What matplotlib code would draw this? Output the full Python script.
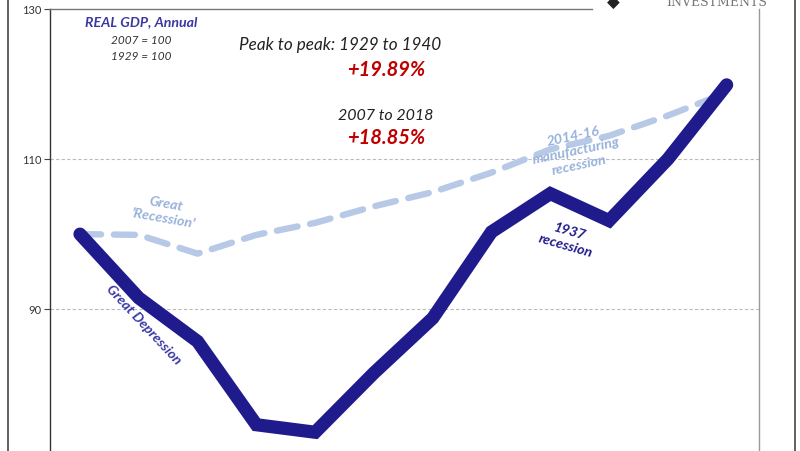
import matplotlib
matplotlib.use("Agg")
import matplotlib.pyplot as plt
from matplotlib.lines import Line2D

plt.rcParams['font.family'] = ['Lato', 'DejaVu Sans']

# Data: Real GDP indexed (1929=100 for Great Depression, 2007=100 for Great Recession)
years_depression = [1929, 1930, 1931, 1932, 1933, 1934, 1935, 1936, 1937, 1938, 1939, 1940]
gdp_depression = [100.0, 91.5, 85.7, 74.6, 73.6, 81.5, 88.8, 100.3, 105.4, 101.8, 110.0, 119.89]
years_recession = [2007, 2008, 2009, 2010, 2011, 2012, 2013, 2014, 2015, 2016, 2017, 2018]
gdp_recession = [100.0, 99.9, 97.4, 99.9, 101.5, 103.7, 105.6, 108.2, 111.3, 113.1, 115.8, 118.85]
y_ticks = [90, 110, 130]

navy = '#1f1b8c'
light = '#b7c9e6'
lighttext = '#98b2dc'

fig = plt.figure(figsize=(8, 4.51), dpi=100)
ax = fig.add_axes([50/800, 0, (759-50)/800, 1 - 9/451])

idx = list(range(len(years_depression)))
ax.plot(idx, gdp_recession, color=light, lw=4.6, dashes=(3.3, 2.0),
        dash_capstyle='round', zorder=2)
ax.plot(idx, gdp_depression, color=navy, lw=9.5, solid_capstyle='round',
        solid_joinstyle='miter', zorder=3)

ax.set_xlim(-0.51, 11.55)
ax.set_ylim(71.1, 130)
ax.set_yticks(y_ticks)
ax.set_yticklabels([str(t) for t in y_ticks])
ax.set_xticks([])
ax.tick_params(axis='y', length=4, width=0.8, color='#444444', labelsize=8,
               labelcolor='#333333', pad=2)
for t in y_ticks[:-1]:
    ax.axhline(t, color='#bbbbbb', lw=0.8, ls=(0, (3, 2)), zorder=1)

ax.spines['left'].set_color('#333333')
ax.spines['left'].set_linewidth(1.0)
ax.spines['right'].set_color('#999999')
ax.spines['right'].set_linewidth(1.0)
ax.spines['top'].set_visible(False)
ax.spines['bottom'].set_visible(False)

# top frame line (interrupted by logo)
fig.add_artist(Line2D([50/800, 592/800], [1 - 8.5/451, 1 - 8.5/451],
                      color='#777777', lw=1.0))
# outer frame
fig.add_artist(Line2D([8/800, 8/800], [0, 1], color='#444444', lw=1.2))
fig.add_artist(Line2D([795/800, 795/800], [0, 1], color='#444444', lw=1.2))

# logo fragment
fig.text(613/800, 1 - 3/451, '\u25c6', ha='center', va='center', fontsize=12,
         color='#222222', family='DejaVu Sans')
fig.text(717/800, 1 - 3/451, 'INVESTMENTS', ha='center', va='center', fontsize=9,
         color='#777777', family='DejaVu Serif')

def ftext(px, py, s, **kw):
    fig.text(px/800, 1 - py/451, s, **kw)

ftext(141, 22, 'REAL GDP, Annual', ha='center', va='center', fontsize=10.2,
      style='italic', weight='bold', color='#3b38a3')
ftext(141, 41, '2007 = 100', ha='center', va='center', fontsize=8.5,
      style='italic', color='#333333')
ftext(141, 57, '1929 = 100', ha='center', va='center', fontsize=8.5,
      style='italic', color='#333333')
ftext(340, 45, 'Peak to peak: 1929 to 1940', ha='center', va='center', fontsize=12.3,
      style='italic', color='#222222')
ftext(386, 70, '+19.89%', ha='center', va='center', fontsize=14.5,
      style='italic', weight='bold', color='#c00000')
ftext(386, 116, '2007 to 2018', ha='center', va='center', fontsize=11.5,
      style='italic', color='#222222')
ftext(386, 138, '+18.85%', ha='center', va='center', fontsize=14.5,
      style='italic', weight='bold', color='#c00000')

ftext(165, 211, "Great\n'Recession'", ha='center', va='center', fontsize=10.3,
      style='italic', weight='bold', color=lighttext, rotation=-10,
      linespacing=1.3)
ftext(576, 151, '2014-16\nmanufacturing\nrecession', ha='center', va='center',
      fontsize=10.3, style='italic', weight='bold', color=lighttext, rotation=12,
      linespacing=1.3)
ftext(568, 239, '1937\nrecession', ha='center', va='center', fontsize=10.3,
      style='italic', weight='bold', color=navy, rotation=-16, linespacing=1.3)
ftext(144, 325, 'Great Depression', ha='center', va='center', fontsize=10.2,
      style='italic', weight='bold', color='#3b38a3', rotation=-47)

fig.savefig('out.png', dpi=100, facecolor='white')
